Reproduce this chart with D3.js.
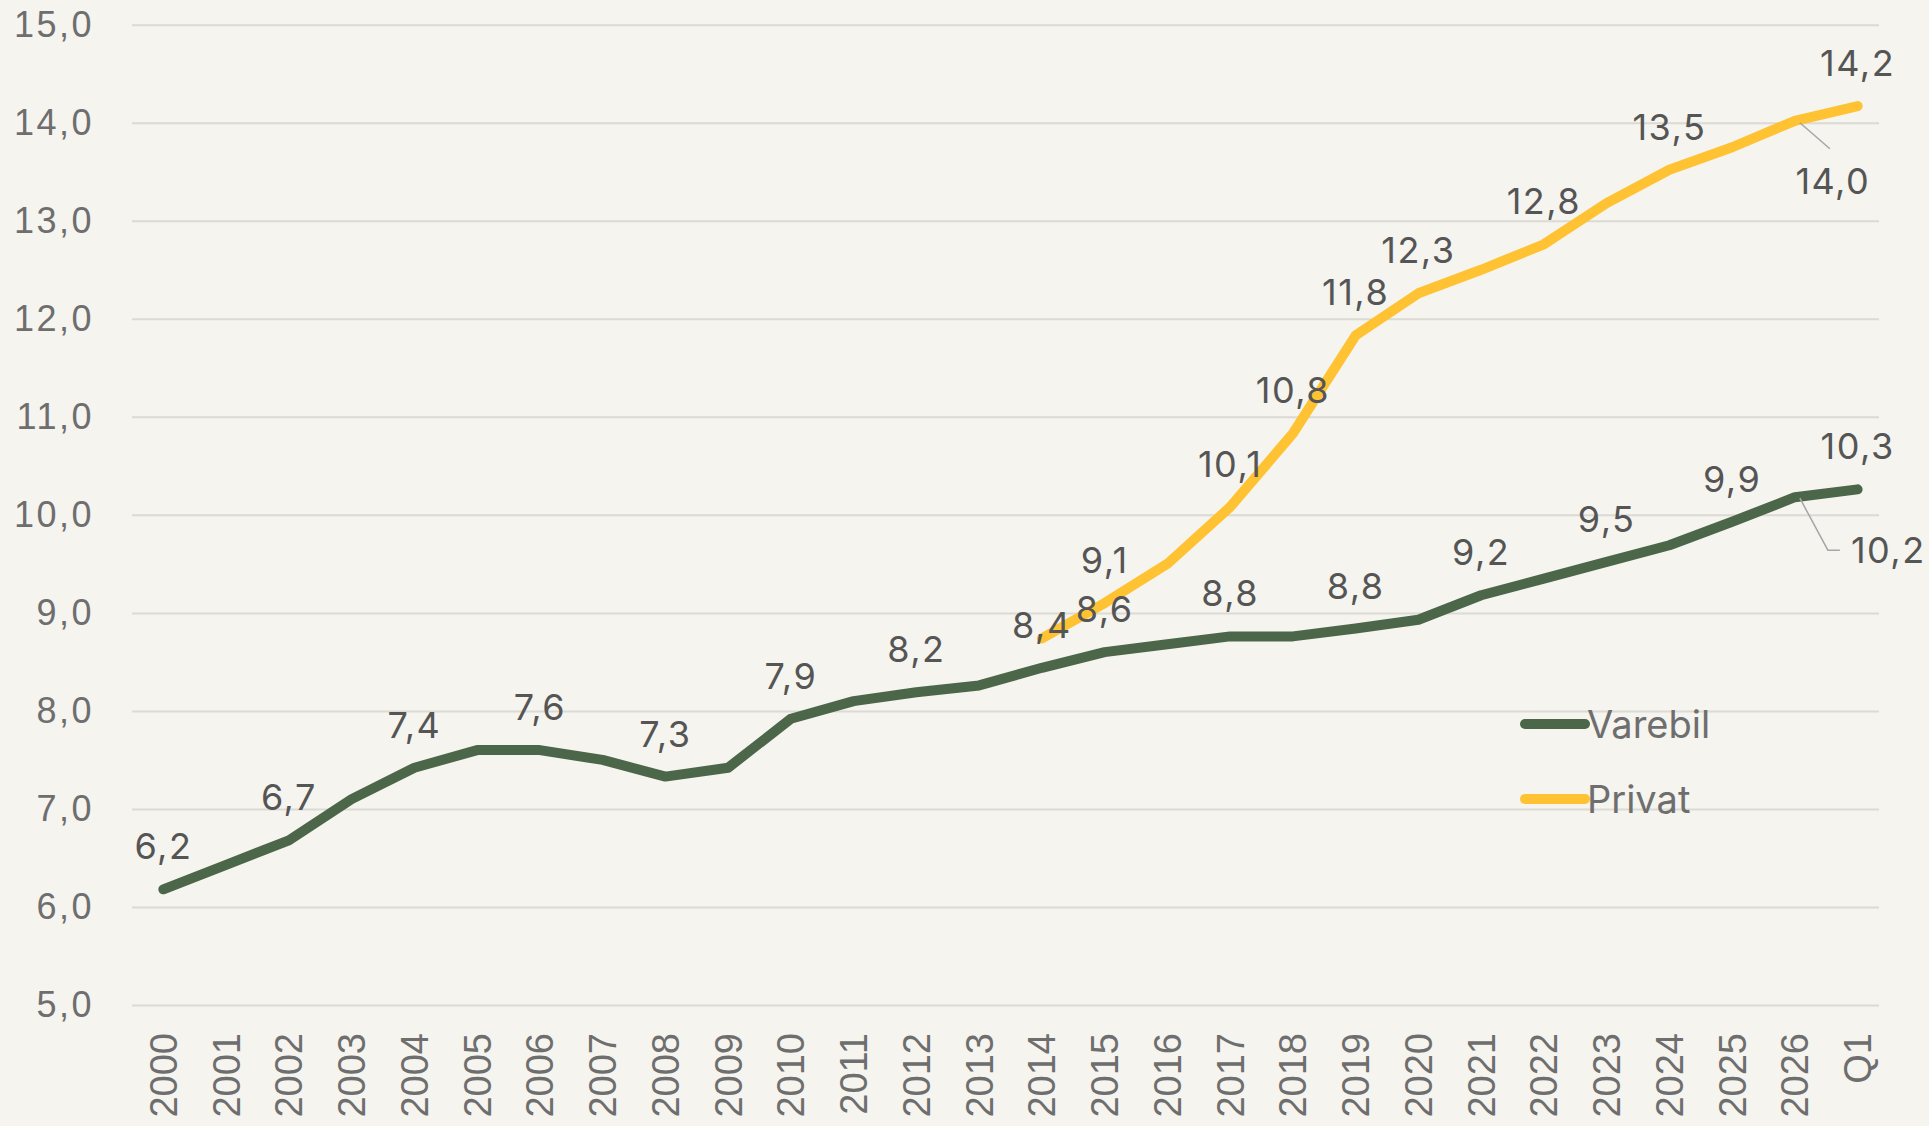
<!DOCTYPE html>
<html>
<head>
<meta charset="utf-8">
<script src="https://cdn.jsdelivr.net/npm/d3@7"></script>
<style>
  html, body { margin: 0; padding: 0; background: #f5f4ee; }
  svg { display: block; }
</style>
</head>
<body>
<svg id="chart" width="1929" height="1126"></svg>
<script>
// ---- DATA ----
const categories = ["2000","2001","2002","2003","2004","2005","2006","2007","2008","2009",
  "2010","2011","2012","2013","2014","2015","2016","2017","2018","2019",
  "2020","2021","2022","2023","2024","2025","2026","Q1"];
const varebil = [6.18, 6.43, 6.68, 7.10, 7.42, 7.60, 7.60, 7.50, 7.33, 7.42,
  7.92, 8.10, 8.19, 8.26, 8.44, 8.60, 8.68, 8.76, 8.76, 8.84,
  8.93, 9.18, 9.35, 9.52, 9.69, 9.93, 10.18, 10.26];
const privat = [null, null, null, null, null, null, null, null, null, null,
  null, null, null, null, 8.74, 9.10, 9.50, 10.08, 10.83, 11.83,
  12.26, 12.50, 12.76, 13.18, 13.52, 13.75, 14.02, 14.17];
const yTicks = [5, 6, 7, 8, 9, 10, 11, 12, 13, 14, 15];
const seriesNames = ["Varebil", "Privat"];
// which points carry a value label
const varebilLabelCats = ["2000","2002","2004","2006","2008","2010","2012","2014","2015",
  "2017","2019","2021","2023","2025","2026","Q1"];
const privatLabelCats = ["2015","2017","2018","2019","2020","2022","2024","2026","Q1"];

// ---- STYLE ----
const colors = { Varebil: "#4c6649", Privat: "#fec233" };
const W = 1929, H = 1126;
const plot = { left: 132, right: 1879, top: 24.7, bottom: 1005 };

const svg = d3.select("#chart");
svg.append("rect").attr("width", W).attr("height", H).attr("fill", "#f5f4ee");

const x = d3.scalePoint().domain(categories).range([plot.left, 1889]).padding(0.5);
const y = d3.scaleLinear().domain([5, 15]).range([plot.bottom, plot.top]);

const fmt = v => d3.format(".1f")(v).replace(".", ",");

// y axis + gridlines
const yAxis = svg.append("g")
  .attr("transform", `translate(${plot.left},0)`)
  .call(d3.axisLeft(y).tickValues(yTicks).tickSize(-(plot.right - plot.left)).tickPadding(38)
    .tickFormat(fmt));
yAxis.select(".domain").remove();
yAxis.selectAll(".tick line").attr("stroke", "#dcdad5").attr("stroke-width", 2);
yAxis.selectAll(".tick text")
  .attr("fill", "#6e6e6e")
  .style("font-family", "'Liberation Sans', Arial, sans-serif")
  .style("font-size", "36px")
  .style("letter-spacing", "2.5px");

// x axis
const xAxis = svg.append("g")
  .attr("transform", `translate(0,${plot.bottom})`)
  .call(d3.axisBottom(x).tickSize(0).tickPadding(0));
xAxis.select(".domain").remove();
xAxis.selectAll(".tick text")
  .attr("fill", "#6e6e6e")
  .style("font-family", "'Liberation Sans', Arial, sans-serif")
  .style("font-size", "38px")
  .attr("text-anchor", "end")
  .attr("dominant-baseline", "central")
  .attr("dy", null)
  .attr("y", 0)
  .attr("transform", "translate(0,28) rotate(-90)");

// lines
const series = [
  { name: "Varebil", values: varebil, labels: varebilLabelCats },
  { name: "Privat", values: privat, labels: privatLabelCats }
];
const line = d3.line()
  .defined(d => d.v != null)
  .x(d => x(d.c))
  .y(d => y(d.v));

series.forEach(s => {
  const pts = categories.map((c, i) => ({ c, v: s.values[i] }));
  svg.append("path")
    .datum(pts)
    .attr("d", line)
    .attr("fill", "none")
    .attr("stroke", colors[s.name])
    .attr("stroke-width", 10)
    .attr("stroke-linejoin", "round")
    .attr("stroke-linecap", "round");
});

// data labels
const labelStyle = sel => sel
  .attr("fill", "#555555")
  .style("font-family", "Inter, 'Noto Sans', sans-serif")
  .style("font-size", "36px")
  .style("letter-spacing", "1.5px");

// special leader-line placements (style only)
const leaders = {
  "Privat|2026": { dx: 38, dy: 60, anchor: "middle", path: (px, py) => [[px + 5, py + 2], [px + 35, py + 28]] },
  "Varebil|2026": { dx: 56, dy: 53, anchor: "start", path: (px, py) => [[px + 5, py + 1], [px + 33, py + 53], [px + 45, py + 53]] }
};

series.forEach(s => {
  s.labels.forEach(c => {
    const i = categories.indexOf(c);
    const v = s.values[i];
    const px = x(c), py = y(v);
    const key = s.name + "|" + c;
    if (leaders[key]) {
      const L = leaders[key];
      svg.append("path")
        .attr("d", d3.line()(L.path(px, py)))
        .attr("fill", "none")
        .attr("stroke", "#a6a6a6")
        .attr("stroke-width", 1.5);
      svg.append("text")
        .attr("x", px + L.dx).attr("y", py + L.dy)
        .attr("text-anchor", L.anchor)
        .attr("dominant-baseline", "central")
        .text(fmt(v))
        .call(labelStyle);
    } else {
      svg.append("text")
        .attr("x", px).attr("y", py - 43)
        .attr("text-anchor", "middle")
        .attr("dominant-baseline", "central")
        .text(fmt(v))
        .call(labelStyle);
    }
  });
});

// legend
const legend = svg.append("g").attr("transform", "translate(1525,724)");
seriesNames.forEach((n, i) => {
  const g = legend.append("g").attr("transform", `translate(0,${i * 75})`);
  g.append("line").attr("x1", 0).attr("x2", 60).attr("y1", 0).attr("y2", 0)
    .attr("stroke", colors[n]).attr("stroke-width", 10).attr("stroke-linecap", "round");
  g.append("text").attr("x", 62).attr("y", 0)
    .attr("dominant-baseline", "central")
    .attr("fill", "#6e6e6e")
    .style("font-family", "Inter, 'Noto Sans', sans-serif")
    .style("font-size", "38px")
    .text(n);
});
</script>
</body>
</html>
